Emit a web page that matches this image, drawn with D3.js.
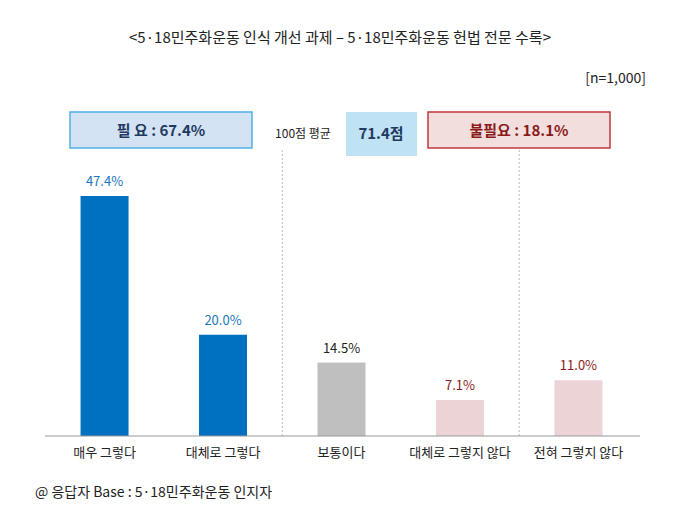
<!DOCTYPE html><html><head><meta charset="utf-8">
<script src="https://cdn.jsdelivr.net/npm/d3@7"></script>
<style>body{margin:0;background:#fff}text{font-family:"Noto Sans CJK KR","Noto Sans",sans-serif}</style></head><body>
<svg id="c" width="700" height="525"></svg>
<script>
const categories=["매우 그렇다","대체로 그렇다","보통이다","대체로 그렇지 않다","전혀 그렇지 않다"];
const values=[47.4,20.0,14.5,7.1,11.0];
const groups=["pos","pos","mid","neg","neg"];
const fills={pos:"#0070c0",mid:"#bfbfbf",neg:"#ecd3d5"};
const labelColors={pos:"#1a75bc",mid:"#222",neg:"#8b1a1a"};
const svg=d3.select("#c");
const x=d3.scaleBand().domain(categories).range([45,638]).paddingInner(0.595).paddingOuter(0.3);
const y=d3.scaleLinear().domain([0,47.4]).range([436,196]);
svg.append("text").attr("x",340).attr("y",43).attr("text-anchor","middle").attr("font-size",15).attr("fill","#222")
 .text("<5·18민주화운동 인식 개선 과제 – 5·18민주화운동 헌법 전문 수록>");
svg.append("text").attr("x",646).attr("y",83).attr("text-anchor","end").attr("font-size",14).attr("fill","#222").text("[n=1,000]");
// boxes
svg.append("rect").attr("x",70).attr("y",112).attr("width",182).attr("height",36).attr("fill","#d3e3f3").attr("stroke","#4fb0e6").attr("stroke-width",1.5);
svg.append("text").attr("x",161).attr("y",136).attr("text-anchor","middle").attr("font-size",15).attr("font-weight","bold").attr("fill","#1f3a60").text("필 요 : 67.4%");
svg.append("rect").attr("x",346).attr("y",112).attr("width",71).attr("height",44).attr("fill","#bfe2f5");
svg.append("text").attr("x",303).attr("y",138).attr("text-anchor","middle").attr("font-size",12).attr("fill","#222").text("100점 평균");
svg.append("text").attr("x",381).attr("y",139).attr("text-anchor","middle").attr("font-size",15).attr("font-weight","bold").attr("fill","#1f3a60").text("71.4점");
svg.append("rect").attr("x",428).attr("y",112).attr("width",182).attr("height",36).attr("fill","#f3dede").attr("stroke","#c0393b").attr("stroke-width",1.5);
svg.append("text").attr("x",519).attr("y",136).attr("text-anchor","middle").attr("font-size",15).attr("font-weight","bold").attr("fill","#8b1a1a").text("불필요 : 18.1%");
// dividers
[1.5,3.5].forEach(i=>{
 const xi=(x(categories[Math.floor(i)])+x.bandwidth()+x(categories[Math.ceil(i)]))/2;
 svg.append("line").attr("x1",xi).attr("x2",xi).attr("y1",150).attr("y2",436).attr("stroke","#bbb").attr("stroke-dasharray","2,2");
});
svg.selectAll("rect.bar").data(values).enter().append("rect").attr("class","bar")
 .attr("x",(d,i)=>x(categories[i])).attr("width",x.bandwidth()).attr("y",d=>y(d)).attr("height",d=>436-y(d)).attr("fill",(d,i)=>fills[groups[i]]);
svg.selectAll("text.v").data(values).enter().append("text").attr("class","v")
 .attr("x",(d,i)=>x(categories[i])+x.bandwidth()/2).attr("y",d=>y(d)-10).attr("text-anchor","middle").attr("font-size",13)
 .attr("fill",(d,i)=>labelColors[groups[i]]).text(d=>d.toFixed(1)+"%");
svg.append("line").attr("x1",45).attr("x2",640).attr("y1",436).attr("y2",436).attr("stroke","#999");
svg.selectAll("text.c").data(categories).enter().append("text").attr("class","c")
 .attr("x",d=>x(d)+x.bandwidth()/2).attr("y",457).attr("text-anchor","middle").attr("font-size",13).attr("fill","#222").text(d=>d);
svg.append("text").attr("x",35).attr("y",497).attr("font-size",14).attr("fill","#222").text("@ 응답자 Base : 5·18민주화운동 인지자");
</script></body></html>
